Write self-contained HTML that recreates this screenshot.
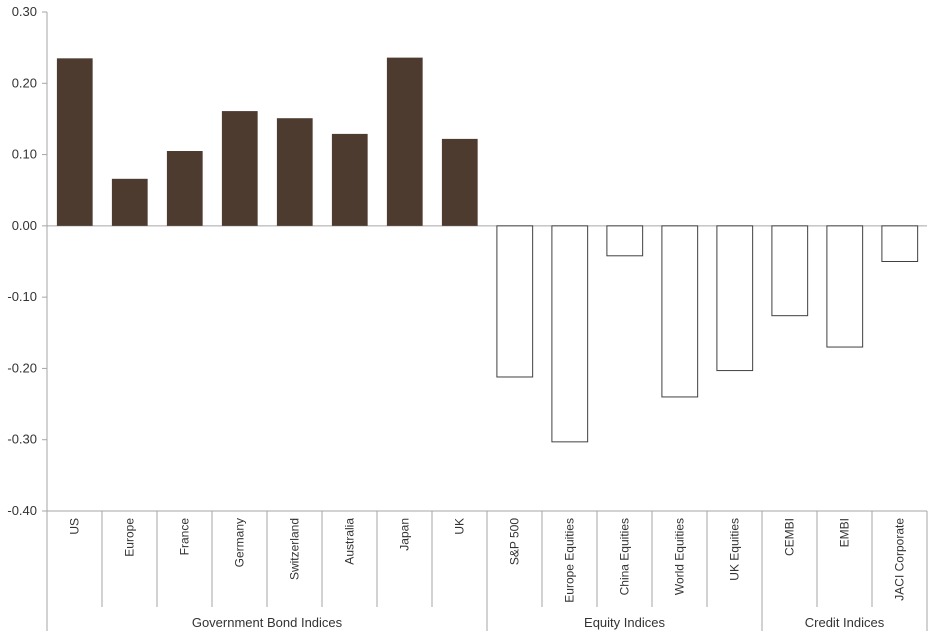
<!DOCTYPE html>
<html><head><meta charset="utf-8"><style>
body{margin:0;background:#fff}
svg{display:block;font-family:"Liberation Sans",sans-serif}
</style></head><body>
<svg id="chart" width="935" height="633" viewBox="0 0 935 633"></svg>
<script>
const categories=["US","Europe","France","Germany","Switzerland","Australia","Japan","UK","S&P 500","Europe Equities","China Equities","World Equities","UK Equities","CEMBI","EMBI","JACI Corporate"];
const values=[0.235,0.066,0.105,0.161,0.151,0.129,0.236,0.122,-0.212,-0.303,-0.042,-0.240,-0.203,-0.126,-0.170,-0.050];
const groups=["Government Bond Indices","Equity Indices","Credit Indices"];
const groupSizes=[8,5,3];
const yTicks=[0.30,0.20,0.10,0.00,-0.10,-0.20,-0.30,-0.40];
const NS="http://www.w3.org/2000/svg";
const svg=document.getElementById("chart");
const X0=47,X1=927,YT=12,YB=511,VMAX=0.30,VMIN=-0.40;
const bw=(X1-X0)/categories.length;
function y(v){return YT+(VMAX-v)/(VMAX-VMIN)*(YB-YT);}
function x(i){return X0+i*bw;}
function mk(t,a){const e=document.createElementNS(NS,t);for(const k in a)e.setAttribute(k,a[k]);svg.appendChild(e);return e;}
// y axis
let ax=mk("line",{x1:X0,y1:YT,x2:X0,y2:631,stroke:"#a6a6a6"});


let bx=mk("line",{x1:X0,y1:YB,x2:X1,y2:YB,stroke:"#a6a6a6"});


let zl=mk("line",{x1:X0,y1:y(0),x2:X1,y2:y(0),stroke:"#a6a6a6"});


yTicks.forEach(t=>{
  const tk=mk("line",{x1:X0-5,y1:y(t),x2:X0,y2:y(t),stroke:"#a6a6a6"});
  
  
  const tx=mk("text",{x:X0-10,y:y(t)+4,"text-anchor":"end","font-size":"13",fill:"#333"});
  tx.textContent=t.toFixed(2);
  
  
});
categories.forEach((c,i)=>{
  const v=values[i];
  const pos=v>=0;
  const r=mk("rect",{x:x(i)+bw*0.18,y:Math.min(y(v),y(0)),width:bw*0.65,height:Math.abs(y(v)-y(0)),fill:pos?"#4e3b30":"#fff",stroke:pos?"#4e3b30":"#404040","stroke-width":pos?0:1});
  
  
  if(i>0){
    const s=mk("line",{x1:x(i),y1:YB,x2:x(i),y2:607,stroke:"#a6a6a6"});
    
    
  }
  const cx=x(i)+bw/2+4;
  const t=mk("text",{x:cx,y:518,"font-size":"12",fill:"#333","text-anchor":"end",transform:`rotate(-90 ${cx} 518)`});
  t.setAttribute("x",cx);t.setAttribute("y",518);
  t.textContent=c;
  
  
});
let start=0;
groups.forEach((g,gi)=>{
  const end=start+groupSizes[gi];
  const gl=mk("line",{x1:x(end),y1:YB,x2:x(end),y2:631,stroke:"#a6a6a6"});
  
  
  const t=mk("text",{x:(x(start)+x(end))/2,y:627,"text-anchor":"middle","font-size":"13",fill:"#333"});
  t.textContent=g;
  
  
  start=end;
});
</script>
</body></html>
